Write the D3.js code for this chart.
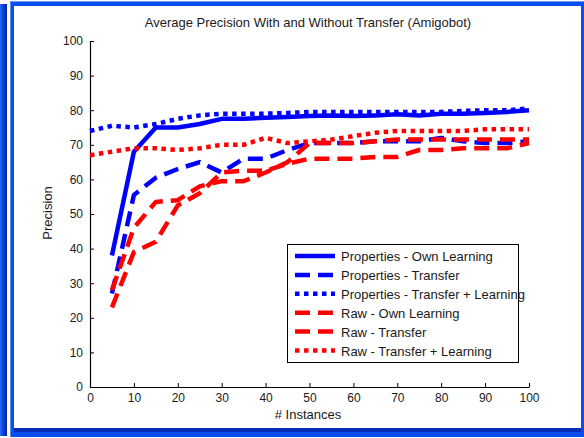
<!DOCTYPE html>
<html>
<head>
<meta charset="utf-8">
<script src="https://cdn.jsdelivr.net/npm/d3@7"></script>
<style>
  html, body { margin: 0; padding: 0; background: #ffffff; }
  svg { display: block; }
  text { font-family: "Liberation Sans", Arial, sans-serif; fill: #1a1a1a; }
</style>
</head>
<body>
<svg id="chart" width="584" height="438"></svg>
<script>
// Number of training instances
const instances = [5, 10, 15, 20, 25, 30, 35, 40, 45, 50, 55, 60, 65, 70, 75, 80, 85, 90, 95, 100];
const instancesFromZero = [0, 5, 10, 15, 20, 25, 30, 35, 40, 45, 50, 55, 60, 65, 70, 75, 80, 85, 90, 95, 100];

// Precision (%) for each configuration
const propertiesOwn = [38, 68, 75, 75, 76, 77.5, 77.5, 77.8, 78, 78.3, 78.5, 78.3, 78.5, 78.8, 78.5, 79, 79, 79.2, 79.5, 80];
const propertiesTransfer = [27, 55.5, 60.5, 63, 65, 62, 66, 66, 68.5, 70.5, 70.5, 70.5, 71, 71, 71, 72, 71, 70.5, 70.5, 71];
const propertiesTransferLearning = [74, 75.5, 75, 76, 77.5, 78.5, 79, 79, 79, 79.2, 79.5, 79.5, 79.5, 79.5, 79.5, 79.5, 79.5, 79.8, 80, 80, 80.5];
const rawOwn = [28, 46, 53.5, 54, 58, 59.5, 59.5, 62, 65, 70.5, 70.5, 70.5, 71, 71.5, 71.5, 71.5, 71.5, 71.5, 71.5, 71.5];
const rawTransfer = [23, 39, 42, 52.5, 56, 62, 62.5, 62.5, 64.5, 66, 66, 66, 66.5, 66.5, 68.5, 68.5, 69, 69, 69, 70.5];
const rawTransferLearning = [67, 68, 69, 69, 68.5, 69, 70, 70, 72, 70.5, 71, 71.5, 72.5, 73.5, 74, 74, 74, 74, 74.5, 74.5, 74.5];

const seriesNames = [
  "Properties - Own Learning",
  "Properties - Transfer",
  "Properties - Transfer + Learning",
  "Raw - Own Learning",
  "Raw - Transfer",
  "Raw - Transfer + Learning"
];
const yTicks = [0, 10, 20, 30, 40, 50, 60, 70, 80, 90, 100];
const xTicks = [0, 10, 20, 30, 40, 50, 60, 70, 80, 90, 100];

const BLUE = "#0000ff", RED = "#ff0000";
const DASH = "15,8", DOT = "4.5,4.5";

const series = [
  { name: seriesNames[0], x: instances, y: propertiesOwn, color: BLUE, dash: null },
  { name: seriesNames[1], x: instances, y: propertiesTransfer, color: BLUE, dash: DASH },
  { name: seriesNames[2], x: instancesFromZero, y: propertiesTransferLearning, color: BLUE, dash: DOT },
  { name: seriesNames[3], x: instances, y: rawOwn, color: RED, dash: DASH },
  { name: seriesNames[4], x: instances, y: rawTransfer, color: RED, dash: DASH },
  { name: seriesNames[5], x: instancesFromZero, y: rawTransferLearning, color: RED, dash: DOT }
];

const svg = d3.select("#chart");

// Window frame
const frame = svg.append("g");
const leftGrad = svg.append("defs").append("linearGradient").attr("id", "leftStrip")
  .attr("x1", "0").attr("x2", "1").attr("y1", "0").attr("y2", "0");
leftGrad.append("stop").attr("offset", "0").attr("stop-color", "#2a6cf5");
leftGrad.append("stop").attr("offset", "0.5").attr("stop-color", "#0a3fd8");
leftGrad.append("stop").attr("offset", "1").attr("stop-color", "#00209a");
frame.append("rect").attr("x", 0).attr("y", 4).attr("width", 7).attr("height", 432).attr("fill", "url(#leftStrip)");
frame.append("rect").attr("x", 10).attr("y", 1).attr("width", 574).attr("height", 436).attr("fill", "#0a4ef0");
frame.append("rect").attr("x", 10).attr("y", 1).attr("width", 574).attr("height", 1).attr("fill", "#6c9cf5");
frame.append("rect").attr("x", 10).attr("y", 1).attr("width", 1).attr("height", 436).attr("fill", "#5a8ef0");
frame.append("rect").attr("x", 14).attr("y", 428).attr("width", 567).attr("height", 4).attr("fill", "#0a2cb8");
frame.append("rect").attr("x", 14).attr("y", 6).attr("width", 567).attr("height", 422).attr("fill", "#ffffff");

const x = d3.scaleLinear().domain([0, 100]).range([90, 529]);
const y = d3.scaleLinear().domain([0, 100]).range([387, 41]);

// Axes with inward ticks
const gx = svg.append("g").attr("transform", `translate(0,${y(0)})`)
  .call(d3.axisBottom(x).tickValues(xTicks).tickSizeInner(-4).tickSizeOuter(0).tickPadding(6));
const gy = svg.append("g").attr("transform", `translate(${x(0)},0)`)
  .call(d3.axisLeft(y).tickValues(yTicks).tickSizeInner(-4).tickSizeOuter(0).tickPadding(7));
[gx, gy].forEach(g => {
  g.selectAll("path.domain").attr("stroke", "#000").attr("stroke-width", 1.2);
  g.selectAll(".tick line").attr("stroke", "#000");
  g.selectAll(".tick text").attr("font-family", "Liberation Sans, Arial, sans-serif")
    .attr("font-size", 12).attr("fill", "#1a1a1a");
});

// Series lines
const line = d3.line().x(d => x(d[0])).y(d => y(d[1]));
series.forEach(s => {
  svg.append("path")
    .datum(s.x.map((v, i) => [v, s.y[i]]))
    .attr("fill", "none")
    .attr("stroke", s.color)
    .attr("stroke-width", 4.5)
    .attr("stroke-dasharray", s.dash)
    .attr("stroke-linejoin", "round")
    .attr("d", line);
});

// Titles
svg.append("text").attr("x", 308).attr("y", 27).attr("text-anchor", "middle")
  .attr("font-size", 13).text("Average Precision With and Without Transfer (Amigobot)");
svg.append("text").attr("x", 308).attr("y", 419).attr("text-anchor", "middle")
  .attr("font-size", 13).text("# Instances");
svg.append("text").attr("transform", "translate(52,213) rotate(-90)").attr("text-anchor", "middle")
  .attr("font-size", 13).text("Precision");

// Legend
const legend = svg.append("g");
legend.append("rect").attr("x", 287.5).attr("y", 244.5).attr("width", 231).attr("height", 118)
  .attr("fill", "#fff").attr("stroke", "#000").attr("stroke-width", 1);
series.forEach((s, i) => {
  const ly = 256 + i * 18.9;
  legend.append("line").attr("x1", 295).attr("x2", 335).attr("y1", ly).attr("y2", ly)
    .attr("stroke", s.color).attr("stroke-width", 4.5).attr("stroke-dasharray", s.dash);
  legend.append("text").attr("x", 341).attr("y", ly + 5).attr("font-size", 13).text(s.name);
});
</script>
</body>
</html>
